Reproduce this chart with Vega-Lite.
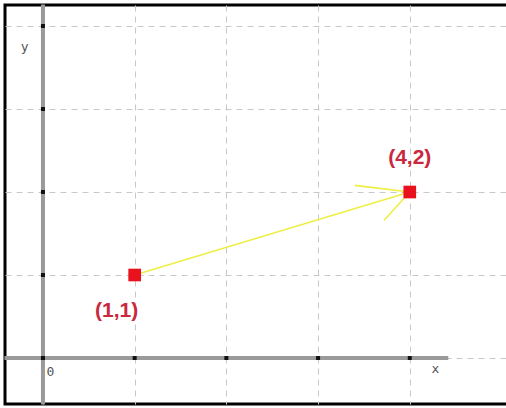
{
  "$schema": "https://vega.github.io/schema/vega-lite/v6.json",
  "width": 505,
  "height": 399,
  "padding": {"left": 5, "top": 5, "right": 0, "bottom": 4},
  "autosize": {"type": "none"},
  "background": "white",
  "config": {
    "view": {"stroke": "black", "strokeWidth": 3},
    "axis": {"grid": true, "gridColor": "#c8c8c8", "gridDash": [6, 5], "gridWidth": 1,
             "domain": false, "ticks": false, "labels": false, "title": null}
  },
  "datasets": {
    "segments": [
      {"part": "vector", "x": 1, "y": 1, "x2": 4, "y2": 2},
      {"part": "head", "x": 4, "y": 2, "x2": 3.4, "y2": 2.08},
      {"part": "head", "x": 4, "y": 2, "x2": 3.72, "y2": 1.66}
    ],
    "points": [
      {"x": 1, "y": 1, "label": "(1,1)", "pos": "below"},
      {"x": 4, "y": 2, "label": "(4,2)", "pos": "above"}
    ],
    "ticks": [
      {"x": 0, "y": 0}, {"x": 1, "y": 0}, {"x": 2, "y": 0}, {"x": 3, "y": 0}, {"x": 4, "y": 0},
      {"x": 0, "y": 1}, {"x": 0, "y": 2}, {"x": 0, "y": 3}, {"x": 0, "y": 4}
    ],
    "axes": [
      {"axis": "x", "x": -0.42, "y": 0, "x2": 4.42, "y2": 0},
      {"axis": "y", "x": 0, "y": -0.56, "x2": 0, "y2": 4.26}
    ],
    "names": [
      {"name": "y", "x": -0.2, "y": 3.75},
      {"name": "0", "x": 0.08, "y": -0.17},
      {"name": "x", "x": 4.28, "y": -0.13}
    ]
  },
  "encoding": {
    "x": {"field": "x", "type": "quantitative",
          "scale": {"domain": [-0.414, 5.093], "nice": false, "zero": false},
          "axis": {"values": [0, 1, 2, 3, 4]}},
    "y": {"field": "y", "type": "quantitative",
          "scale": {"domain": [-0.554, 4.253], "nice": false, "zero": false},
          "axis": {"values": [0, 1, 2, 3, 4]}}
  },
  "layer": [
    {
      "data": {"name": "axes"},
      "mark": {"type": "rule", "color": "#9a9a9a", "strokeWidth": 4},
      "encoding": {"x2": {"field": "x2"}, "y2": {"field": "y2"}}
    },
    {
      "data": {"name": "ticks"},
      "mark": {"type": "square", "color": "#111111", "size": 16, "opacity": 1}
    },
    {
      "data": {"name": "names"},
      "mark": {"type": "text", "font": "DejaVu Sans Mono", "fontSize": 13, "color": "#555555"},
      "encoding": {"text": {"field": "name"}}
    },
    {
      "data": {"name": "segments"},
      "mark": {"type": "rule", "color": "#eeee44", "strokeWidth": 1.6},
      "encoding": {"x2": {"field": "x2"}, "y2": {"field": "y2"}}
    },
    {
      "data": {"name": "points"},
      "mark": {"type": "square", "color": "#e8111c", "size": 160, "opacity": 1}
    },
    {
      "data": {"name": "points"},
      "transform": [{"filter": "datum.pos == 'below'"}],
      "mark": {"type": "text", "font": "Liberation Sans", "fontWeight": "bold", "fontSize": 21,
               "color": "#c9283e", "dx": -18, "dy": 36},
      "encoding": {"text": {"field": "label"}}
    },
    {
      "data": {"name": "points"},
      "transform": [{"filter": "datum.pos == 'above'"}],
      "mark": {"type": "text", "font": "Liberation Sans", "fontWeight": "bold", "fontSize": 21,
               "color": "#c9283e", "dx": 0, "dy": -34},
      "encoding": {"text": {"field": "label"}}
    }
  ]
}
